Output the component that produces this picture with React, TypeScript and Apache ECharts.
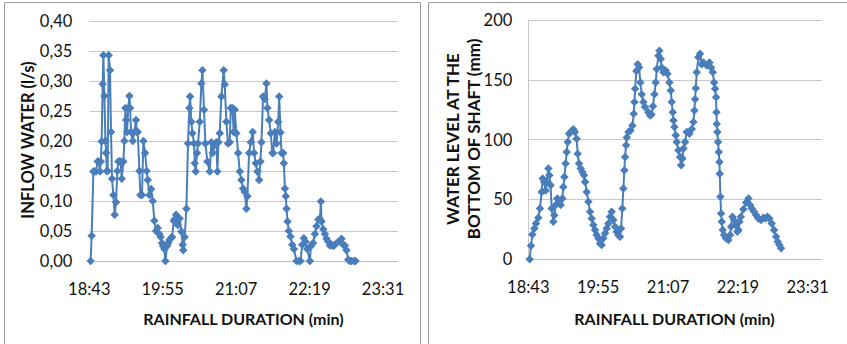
import React, { useEffect, useRef } from "react";
import * as echarts from "echarts";

// minutes after 18:43
const timeTickLabels = ["18:43", "19:55", "21:07", "22:19", "23:31"];
const leftYTicks = ["0,00", "0,05", "0,10", "0,15", "0,20", "0,25", "0,30", "0,35", "0,40"];

const inflowTimes = [
  1.3, 2.3, 4, 5.3, 6.6, 8.2, 9.2, 10.5, 11.3, 12.1, 13.1, 13.8, 14.8, 15.8, 16.4, 17.2, 18, 19, 20.3, 21.3,
  22.3, 23.6, 24.9, 26.2, 27.5, 28.5, 29.5, 30.7, 31.8, 33.4, 34.4, 35.4, 36.2, 37, 38.2, 39.3, 40.1, 40.9,
  42.6, 44.2, 45.8, 46.6, 47.5, 49.1, 50.1, 51.7, 53, 54.7, 56.3, 57.3, 58.9, 60.6, 62.2, 63.8, 65.4, 67.1,
  68.7, 70, 71.3, 72.4, 73.6, 74.6, 76.3, 77.4, 78.5, 80, 81.2, 82.8, 84, 85.1, 86.7,
  88.6, 90.3, 91.6, 92.2, 93.5, 95.2, 96.8, 98.1, 98.8, 100.1, 101.1, 102.7, 103.4, 104.3, 105.6, 106.6,
  108.3, 109.9, 110.9, 112.5, 113.8, 115.8, 118.1, 119.7, 121, 123, 124.6, 125.6, 126.6, 127.9, 129.5,
  131.8, 132.8, 134.4, 136, 137.7, 138.7, 140.3, 141.6, 142.6, 144.2, 145.9, 147.5, 149.1, 150.8, 152.4,
  154, 155, 156.7, 158.3, 160.2, 161.6, 163.2, 164.8, 166.5, 167.8, 168.8, 170.4, 172, 173.7, 174.6,
  176.3, 177.9, 179.5, 180.3, 182, 183.6, 185.2, 186.2, 187.5, 188.5, 190.1, 190.8, 191.8, 192.7, 193.4,
  194.4, 195.7, 197.3, 199, 200.6, 203.2, 205.5, 207.1, 208.8, 210.4, 212, 213.7, 216.3, 217.3, 219.5,
  221.2, 222.8, 224.5, 226.1, 227.1, 227.7, 229.4, 231, 232.6, 234.3, 235.9, 237.5, 239.2, 240.8, 244.1,
  247.3, 249, 250.6, 252.2, 253.9, 255.5, 257.2, 259.8, 261.1,
];
const inflowValues = [
  0, 0.042, 0.149, 0.149, 0.149, 0.166, 0.166, 0.149, 0.166, 0.199, 0.295, 0.343, 0.275, 0.2, 0.18, 0.15,
  0.15, 0.343, 0.318, 0.215, 0.137, 0.11, 0.077, 0.098, 0.15, 0.166, 0.166, 0.166, 0.137, 0.166, 0.2, 0.255,
  0.235, 0.215, 0.255, 0.275, 0.255, 0.215, 0.2, 0.215, 0.235, 0.215, 0.215, 0.15, 0.11, 0.11, 0.2, 0.18,
  0.15, 0.135, 0.11, 0.12, 0.1, 0.067, 0.05, 0.055, 0.045, 0.04, 0.03, 0.025, 0.02, 0, 0.025, 0.03, 0.035,
  0.038, 0.04, 0.067, 0.07, 0.077, 0.06,
  0.071, 0.049, 0.027, 0.018, 0.04, 0.087, 0.196, 0.255, 0.274, 0.232, 0.213, 0.196, 0.163, 0.149, 0.18,
  0.196, 0.232, 0.296, 0.318, 0.252, 0.196, 0.166, 0.149, 0.198, 0.18, 0.194, 0.198, 0.149, 0.198, 0.213,
  0.274, 0.318, 0.294, 0.232, 0.196, 0.198, 0.255, 0.255, 0.215, 0.252, 0.213, 0.18, 0.149, 0.135, 0.121,
  0.115, 0.087, 0.108, 0.18, 0.198, 0.215, 0.18, 0.163, 0.149, 0.135, 0.166, 0.198, 0.274, 0.27, 0.296,
  0.255, 0.235, 0.213, 0.18, 0.18, 0.215, 0.196, 0.232, 0.274, 0.214, 0.18, 0.18, 0.163, 0.121, 0.108,
  0.087, 0.066, 0.05, 0.041, 0.027, 0.02, 0, 0, 0, 0.027, 0.038, 0.032, 0.02, 0, 0.025, 0.03, 0.045, 0.058,
  0.069, 0.07, 0.099, 0.066, 0.053, 0.045, 0.037, 0.032, 0.026, 0.027, 0.025, 0.027, 0.032, 0.037, 0.027,
  0.026, 0.018, 0.002, 0, 0, 0, 0,
];

const levelTimes = [
  1.4, 2.8, 4.2, 6.2, 7.9, 10.3, 12, 13.8, 14.8, 16.5, 17.9, 18.9, 20.7, 21.7, 23, 24.1, 25.8, 26.8, 28.2,
  29.9, 31.6, 33.4, 35.1, 36.1, 37.2, 38.5, 39.6, 40.6, 42, 44, 46.4, 48.1, 49.8, 50.9, 52.3, 54, 55.7,
  57.4, 58.5, 60.2, 61.9, 63.6, 65.3, 67, 68.8, 70.5, 72.2, 73.9, 75.6, 77.4, 79.1, 80.8, 82.5, 84.2, 85.9,
  87.7, 89.4, 91.1, 92.8, 94.5, 95.6, 96.9, 98, 99, 99.7, 100.8, 101.5, 103.2, 105.3, 107.3, 108.7, 109.4,
  110.1, 111.4, 112.8, 114.2, 115.5, 116.9, 118.6, 120.3, 123.7, 125.5, 127, 128.5, 130, 131.3, 132.4,
  134.1, 135.1, 136.5, 137.5, 139.2, 141.6, 143.4, 145.4, 146.8, 147.8, 148.9, 149.6, 150.6, 152, 153,
  154.7, 156.4, 157.5, 158.8, 159.9, 161.6, 163.3, 166.1, 168.5, 170.2, 171.2, 171.9, 172.6, 173.6, 175.3,
  177, 178.8, 180.5, 183.9, 186.7, 188.4, 190.1, 191.5, 192.5, 193.5, 193.9, 194.2, 194.9, 195.6, 196.3,
  197, 197.3, 198, 198.7, 199.4, 200.4, 201.8, 203.8, 206.2, 208, 209, 210.4, 212.1, 213.8, 215.5, 216.6,
  217.6, 219, 221.7, 224.5, 226.9, 228.6, 230.3, 232.7, 234.8, 237.2, 239.9, 242.3, 244.7, 246.4, 248.5,
  250.9, 253.3, 255.4, 257.1, 258.8, 260.5,
];
const levelValues = [
  0, 11.3, 20.8, 25.8, 30, 34.7, 42.5, 56.3, 67.5, 64.7, 57.6, 64.7, 75.8, 70.3, 61.9, 42.5, 31.3, 36.9,
  45.3, 50.8, 48, 45.3, 50.8, 60.5, 68.8, 80, 89.7, 98, 105, 106.9, 108.6, 106.3, 100.8, 88.3, 80, 75.8, 73,
  70.3, 64.7, 56.3, 48, 39.7, 34.2, 28.6, 24.4, 20.3, 17.5, 13.3, 11.9, 17.5, 21.7, 25.8, 30, 35.5, 39.7,
  32.8, 27.2, 23, 20.3, 18.9, 25.8, 42.5, 59.2, 74.4, 85.6, 95.3, 101.9, 106.3, 107.6, 111.9, 121.7, 131.4,
  142.5, 157.4, 163, 160.2, 147.7, 138, 131.4, 127.2, 123, 120.2, 121, 128, 138, 147.7, 159.1, 170.2, 174.4,
  167.5, 160.2, 156.3, 157.7, 155, 147.7, 141.1, 131.4, 123, 116, 110.5, 103.6, 98, 91.1, 85.6, 78.6, 84.2,
  92.5, 98, 106.3, 105, 109, 114.7, 124.4, 133.7, 143, 156.3, 168.8, 171.7, 163, 164.4, 161.9, 164.4, 160.2,
  156.3, 147.7, 142.5, 135.5, 123, 113.1, 106.3, 98, 89.7, 81.4, 71.6, 52.2, 38.3, 31.3, 24.4, 20.3, 17.5,
  16.1, 20.3, 27.2, 35.5, 32.8, 28.6, 23, 24.4, 31.3, 35.5, 41.9, 47.5, 50.8, 45.3, 42.5, 39.7, 36.9, 34.2,
  32.8, 34.7, 34.2, 35.5, 34.2, 30, 24.4, 18.9, 14.7, 11.9, 9.2,
];

const BLUE = "#4A7EBB";
const FONT = "Lato";
const TEXT = "#111";

export default function App() {
  const ref = useRef<HTMLDivElement>(null);
  useEffect(() => {
    if (!ref.current) return;
    const chart = echarts.init(ref.current, null, { renderer: "svg" });
    const xAxisBase = (gridIndex: number) => ({
      type: "value",
      gridIndex,
      min: 0,
      max: 302.4,
      interval: 72,
      axisLine: { show: true, lineStyle: { color: "#BFBFBF", width: 1 } },
      axisTick: { show: false },
      splitLine: { show: false },
      axisLabel: {
        margin: 19,
        fontSize: 16.5,
        fontFamily: FONT,
        color: TEXT,
        formatter: (v: number) => {
          const i = Math.round(v / 72);
          return Math.abs(v - i * 72) < 0.01 ? timeTickLabels[i] ?? "" : "";
        },
      },
    });
    const titleStyle = (text: string, size: number) => ({
      text,
      fontSize: size,
      fontWeight: "bold",
      fontFamily: FONT,
      fill: TEXT,
      align: "center",
      verticalAlign: "middle",
    });
    const inflow = inflowTimes.map((t, i) => [t, inflowValues[i]]);
    const level = levelTimes.map((t, i) => [t, levelValues[i]]);
    chart.setOption({
      animation: false,
      backgroundColor: "#fff",
      grid: [
        { left: 89.3, top: 21, width: 308.4, height: 240 },
        { left: 528.3, top: 20, width: 293.4, height: 239.3 },
      ],
      xAxis: [xAxisBase(0), xAxisBase(1)],
      yAxis: [
        {
          type: "value",
          gridIndex: 0,
          min: 0,
          max: 0.4,
          interval: 0.05,
          axisLine: { show: false },
          axisTick: { show: false },
          splitLine: { show: true, lineStyle: { color: "#C8C8C8", width: 1 } },
          axisLabel: {
            margin: 17,
            fontSize: 16.5,
            fontFamily: FONT,
            color: TEXT,
            formatter: (v: number) => leftYTicks[Math.round(v / 0.05)] ?? "",
          },
        },
        {
          type: "value",
          gridIndex: 1,
          min: 0,
          max: 200,
          interval: 50,
          axisLine: { show: true, lineStyle: { color: "#C8C8C8", width: 1 } },
          axisTick: { show: false },
          splitLine: { show: true, lineStyle: { color: "#C8C8C8", width: 1 } },
          axisLabel: { margin: 16, fontSize: 16.5, fontFamily: FONT, color: TEXT },
        },
      ],
      series: [
        {
          type: "line",
          xAxisIndex: 0,
          yAxisIndex: 0,
          data: inflow,
          symbol: "diamond",
          symbolSize: 8.5,
          showAllSymbol: true,
          lineStyle: { color: BLUE, width: 2 },
          itemStyle: { color: BLUE },
        },
        {
          type: "line",
          xAxisIndex: 1,
          yAxisIndex: 1,
          data: level,
          symbol: "diamond",
          symbolSize: 8.5,
          showAllSymbol: true,
          lineStyle: { color: BLUE, width: 2 },
          itemStyle: { color: BLUE },
        },
      ],
      graphic: [
        {
          type: "rect",
          shape: { x: 4.5, y: 2.5, width: 416, height: 360 },
          style: { fill: "none", stroke: "#9A9A9A", lineWidth: 1 },
          silent: true,
        },
        {
          type: "rect",
          shape: { x: 428.5, y: 2.5, width: 430, height: 360 },
          style: { fill: "none", stroke: "#9A9A9A", lineWidth: 1 },
          silent: true,
        },
        { type: "text", x: 28, y: 140, rotation: Math.PI / 2, style: titleStyle("INFLOW WATER (l/s)", 16.5) },
        { type: "text", x: 452, y: 139, rotation: Math.PI / 2, style: titleStyle("WATER LEVEL AT THE", 17) },
        { type: "text", x: 473, y: 139, rotation: Math.PI / 2, style: titleStyle("BOTTOM OF SHAFT (mm)", 17) },
        { type: "text", x: 243.5, y: 318, style: titleStyle("RAINFALL DURATION (min)", 16) },
        { type: "text", x: 674.5, y: 318, style: titleStyle("RAINFALL DURATION (min)", 16) },
      ],
    });
    return () => chart.dispose();
  }, []);
  return (
    <div
      ref={ref}
      style={{ position: "fixed", left: 0, top: 0, width: 847, height: 344, background: "#fff" }}
    />
  );
}
